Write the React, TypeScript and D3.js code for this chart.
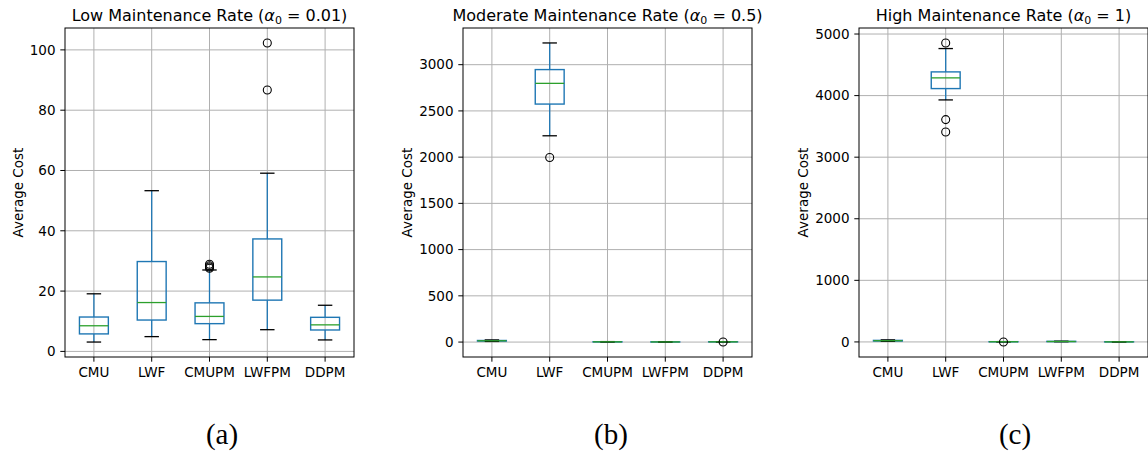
import React from "react";
import * as d3 from "d3";

const categories = ["CMU", "LWF", "CMUPM", "LWFPM", "DDPM"];

// each box: [whisker low, Q1, median, Q3, whisker high]
const lowBoxes = [
  [3.1, 5.8, 8.5, 11.4, 19.1],
  [4.9, 10.4, 16.2, 29.8, 53.3],
  [3.9, 9.2, 11.6, 16.1, 27.0],
  [7.2, 17.0, 24.7, 37.3, 59.1],
  [3.8, 7.1, 8.8, 11.3, 15.3],
];
const lowOutliers = [[], [], [27.6, 28.0, 28.4, 28.9], [86.7, 102.3], []];

const moderateBoxes = [
  [7, 11, 14, 17, 23],
  [2231, 2574, 2798, 2947, 3235],
  [0.5, 1.5, 2.5, 3.5, 5],
  [0.5, 1, 1.5, 2, 3],
  [1, 2, 2.5, 3, 4],
];
const moderateOutliers = [[], [1996], [], [], [0.2]];

const highBoxes = [
  [10, 15, 20, 25, 33],
  [3930, 4114, 4288, 4385, 4764],
  [1, 2, 3, 4, 5],
  [3, 5, 7, 9, 12],
  [0, 0.5, 1, 1.5, 2],
];
const highOutliers = [[], [3410, 3610, 4855], [-2], [], []];

const titles = ["Low Maintenance Rate (", "Moderate Maintenance Rate (", "High Maintenance Rate ("];
const alphaValues = ["0.01", "0.5", "1"];
const captions = ["(a)", "(b)", "(c)"];

const W = 1148, H = 457;
const top = 28, bottom = 357, plotW = 289;
const lefts = [65, 463, 859];
const captionX = [222, 611, 1015];
const ylabelOffset = [47, 56, 56];
const tickCounts = [6, 8, 6];

const BLUE = "#1f77b4", GREEN = "#2ca02c", GRID = "#b0b0b0";
const font = "DejaVu Sans";

function Panel({ idx, boxes, outliers }: { idx: number; boxes: number[][]; outliers: number[][] }) {
  const left = lefts[idx];
  const x = d3.scaleLinear().domain([0.5, categories.length + 0.5]).range([left, left + plotW]);
  const all = boxes.flat().concat(outliers.flat());
  const [lo, hi] = d3.extent(all) as [number, number];
  const pad = (hi - lo) * 0.05;
  const y = d3.scaleLinear().domain([lo - pad, hi + pad]).range([bottom, top]);
  const ticks = y.ticks(tickCounts[idx]);
  const step = x(2) - x(1);
  const bw = step * 0.5;
  const cw = bw * 0.5;
  const cx = (left + left + plotW) / 2;

  return (
    <g>
      {/* grid */}
      {ticks.map((t) => (
        <line key={"gy" + t} x1={left} x2={left + plotW} y1={y(t)} y2={y(t)} stroke={GRID} strokeWidth={1} />
      ))}
      {categories.map((c, i) => (
        <line key={"gx" + c} x1={x(i + 1)} x2={x(i + 1)} y1={top} y2={bottom} stroke={GRID} strokeWidth={1} />
      ))}

      {boxes.map((b, i) => {
        const px = x(i + 1);
        return (
          <g key={"b" + i}>
            <line x1={px} x2={px} y1={y(b[0])} y2={y(b[1])} stroke={BLUE} strokeWidth={1.3} />
            <line x1={px} x2={px} y1={y(b[3])} y2={y(b[4])} stroke={BLUE} strokeWidth={1.3} />
            <rect x={px - bw / 2} y={y(b[3])} width={bw} height={Math.max(0, y(b[1]) - y(b[3]))}
              fill="none" stroke={BLUE} strokeWidth={1.4} />
            <line x1={px - cw / 2} x2={px + cw / 2} y1={y(b[0])} y2={y(b[0])} stroke="#000" strokeWidth={1.3} />
            <line x1={px - cw / 2} x2={px + cw / 2} y1={y(b[4])} y2={y(b[4])} stroke="#000" strokeWidth={1.3} />
            <line x1={px - bw / 2} x2={px + bw / 2} y1={y(b[2])} y2={y(b[2])} stroke={GREEN} strokeWidth={1.3} />
            {outliers[i].map((o, k) => (
              <circle key={k} cx={px} cy={y(o)} r={4} fill="none" stroke="#000" strokeWidth={1.1} />
            ))}
          </g>
        );
      })}

      {/* spines */}
      <rect x={left} y={top} width={plotW} height={bottom - top} fill="none" stroke="#000" strokeWidth={1} />

      {/* y axis */}
      {ticks.map((t) => (
        <g key={"ty" + t}>
          <line x1={left - 4.7} x2={left} y1={y(t)} y2={y(t)} stroke="#000" strokeWidth={1} />
          <text x={left - 9.5} y={y(t)} dy="0.35em" textAnchor="end" fontSize={13.5} fontFamily={font} fill="#000">
            {t}
          </text>
        </g>
      ))}
      {/* x axis */}
      {categories.map((c, i) => (
        <g key={"tx" + c}>
          <line x1={x(i + 1)} x2={x(i + 1)} y1={bottom} y2={bottom + 4.7} stroke="#000" strokeWidth={1} />
          <text x={x(i + 1)} y={bottom + 9.5} dy="0.76em" textAnchor="middle" fontSize={13.5} fontFamily={font} fill="#000">
            {c}
          </text>
        </g>
      ))}

      <text transform={`translate(${left - ylabelOffset[idx]},${(top + bottom) / 2}) rotate(-90)`} textAnchor="middle"
        fontSize={13.5} fontFamily={font} fill="#000" dy="0.35em">
        Average Cost
      </text>

      <text x={cx} y={21} textAnchor="middle" fontSize={16} fontFamily={font} fill="#000">
        {titles[idx]}
        <tspan fontStyle="italic">α</tspan>
        <tspan fontSize={11} dy={3}>0</tspan>
        <tspan dy={-3}>{" = " + alphaValues[idx] + ")"}</tspan>
      </text>

      <text x={captionX[idx]} y={444} textAnchor="middle" fontSize={29} fontFamily="Liberation Serif" fill="#000">
        {captions[idx]}
      </text>
    </g>
  );
}

export default function App() {
  return (
    <svg width={W} height={H} style={{ position: "absolute", left: 0, top: 0, background: "#fff" }}>
      <rect width={W} height={H} fill="#fff" />
      <Panel idx={0} boxes={lowBoxes} outliers={lowOutliers} />
      <Panel idx={1} boxes={moderateBoxes} outliers={moderateOutliers} />
      <Panel idx={2} boxes={highBoxes} outliers={highOutliers} />
    </svg>
  );
}
